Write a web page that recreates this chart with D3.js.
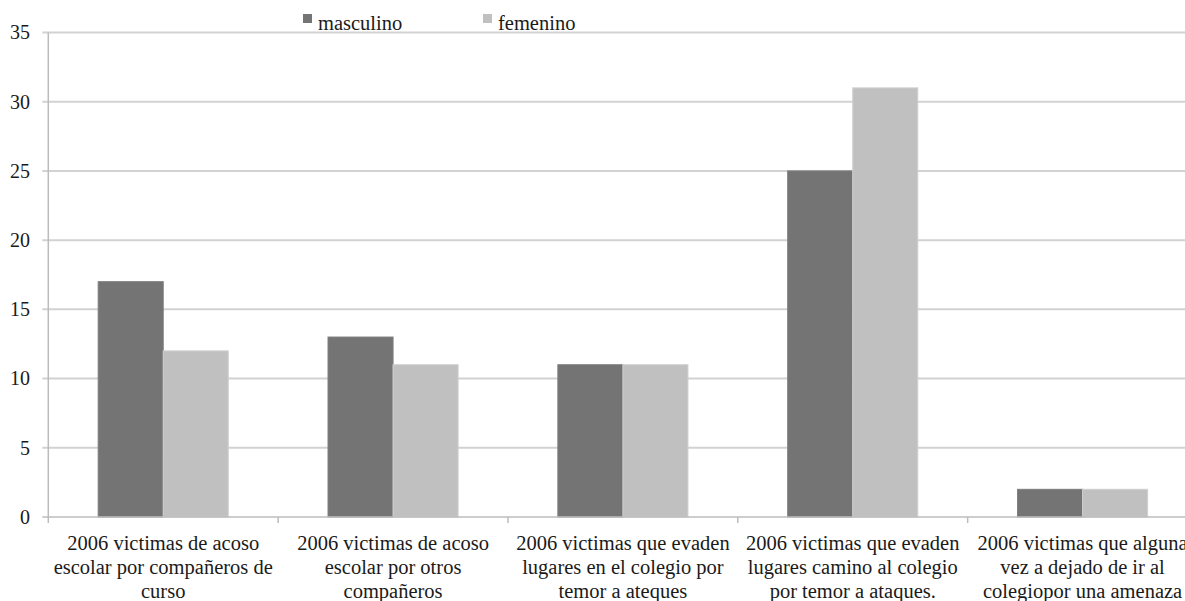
<!DOCTYPE html>
<html>
<head>
<meta charset="utf-8">
<script src="https://cdn.jsdelivr.net/npm/d3@7"></script>
<style>
  html, body { margin: 0; padding: 0; background: #fff; overflow: hidden; }
  svg { display: block; }
  svg text { font-family: 'Liberation Serif', Tinos, 'Times New Roman', 'DejaVu Serif', serif; }
</style>
</head>
<body>
<svg id="chart" width="1185" height="601"></svg>
<script>
// Category labels, one array of lines per category
const categories = [
  ["2006 victimas de acoso", "escolar por compañeros de", "curso"],
  ["2006 victimas de acoso", "escolar por otros", "compañeros"],
  ["2006 victimas que evaden", "lugares en el colegio por", "temor a ateques"],
  ["2006 victimas que evaden", "lugares camino al colegio", "por temor a ataques."],
  ["2006 victimas que alguna", "vez a dejado de ir al", "colegiopor una amenaza"]
];
const seriesNames = ["masculino", "femenino"];
const masculino = [17, 13, 11, 25, 2];
const femenino = [12, 11, 11, 31, 2];
const yTicks = [0, 5, 10, 15, 20, 25, 30, 35];

const colors = { masculino: "#747474", femenino: "#c0c0c0" };
const FONT = "'Liberation Serif', Tinos, 'Times New Roman', 'DejaVu Serif', serif";
const svg = d3.select("#chart");

const plotLeft = 48.3, plotRight = 1197.5, plotTop = 32.5, plotBottom = 517;

const x0 = d3.scaleBand()
  .domain(d3.range(categories.length))
  .range([plotLeft, plotRight])
  .paddingInner(0.434)
  .paddingOuter(0.217);
const x1 = d3.scaleBand()
  .domain(seriesNames)
  .range([0, x0.bandwidth()]);
const y = d3.scaleLinear().domain([0, 35]).range([plotBottom, plotTop]);

// Horizontal gridlines (extend left as axis ticks)
svg.append("g").selectAll("line")
  .data(yTicks.filter(d => d !== 0))
  .join("line")
  .attr("x1", plotLeft - 6).attr("x2", plotRight)
  .attr("y1", d => y(d)).attr("y2", d => y(d))
  .attr("stroke", "#d2d2d2").attr("stroke-width", 2);

// Y tick labels
svg.append("g").selectAll("text")
  .data(yTicks)
  .join("text")
  .attr("x", 30).attr("y", d => y(d))
  .attr("dy", "0.34em")
  .attr("text-anchor", "end")
  .attr("font-family", FONT)
  .attr("font-size", 20)
  .attr("fill", "#1a1a1a")
  .text(d => d);

// Bars
const data = categories.map((c, i) => ({ i, masculino: masculino[i], femenino: femenino[i] }));
const groups = svg.append("g").selectAll("g")
  .data(data)
  .join("g")
  .attr("transform", d => `translate(${x0(d.i)},0)`);
groups.selectAll("rect")
  .data(d => seriesNames.map(k => ({ key: k, value: d[k] })))
  .join("rect")
  .attr("x", d => x1(d.key))
  .attr("width", x1.bandwidth())
  .attr("y", d => y(d.value))
  .attr("height", d => y(0) - y(d.value))
  .attr("fill", d => colors[d.key])
  .attr("stroke", d => d.key === "femenino" ? "#d0d0d0" : "#7e7e7e")
  .attr("stroke-width", 1);

// Axis lines
svg.append("line")
  .attr("x1", plotLeft).attr("x2", plotLeft)
  .attr("y1", plotTop).attr("y2", plotBottom)
  .attr("stroke", "#bcbcbc").attr("stroke-width", 1.5);
svg.append("line")
  .attr("x1", plotLeft - 6).attr("x2", plotRight)
  .attr("y1", plotBottom).attr("y2", plotBottom)
  .attr("stroke", "#bcbcbc").attr("stroke-width", 1.5);

// Category boundary ticks on the x axis
const boundaries = d3.range(categories.length + 1).map(i => plotLeft + i * x0.step());
svg.append("g").selectAll("line")
  .data(boundaries)
  .join("line")
  .attr("x1", d => d).attr("x2", d => d)
  .attr("y1", plotBottom).attr("y2", plotBottom + 6)
  .attr("stroke", "#bcbcbc").attr("stroke-width", 1.5);

// Category labels
const labels = svg.append("g").selectAll("text")
  .data(categories)
  .join("text")
  .attr("x", (d, i) => x0(i) + x0.bandwidth() / 2)
  .attr("y", 550)
  .attr("text-anchor", "middle")
  .attr("font-family", FONT)
  .attr("font-size", 20.5)
  .attr("fill", "#1a1a1a");
labels.selectAll("tspan")
  .data(d => d)
  .join("tspan")
  .attr("x", function () { return d3.select(this.parentNode).attr("x"); })
  .attr("dy", (d, j) => j === 0 ? 0 : 24)
  .text(d => d);

// Legend
const legendX = [303, 483];
const legend = svg.append("g").selectAll("g")
  .data(seriesNames)
  .join("g")
  .attr("transform", (d, i) => `translate(${legendX[i]},0)`);
legend.append("rect")
  .attr("x", 0).attr("y", 14)
  .attr("width", 9).attr("height", 9)
  .attr("fill", d => colors[d]);
legend.append("text")
  .attr("x", 15).attr("y", 30)
  .attr("font-family", FONT)
  .attr("font-size", 20.5)
  .attr("fill", "#1a1a1a")
  .text(d => d);
</script>
</body>
</html>
